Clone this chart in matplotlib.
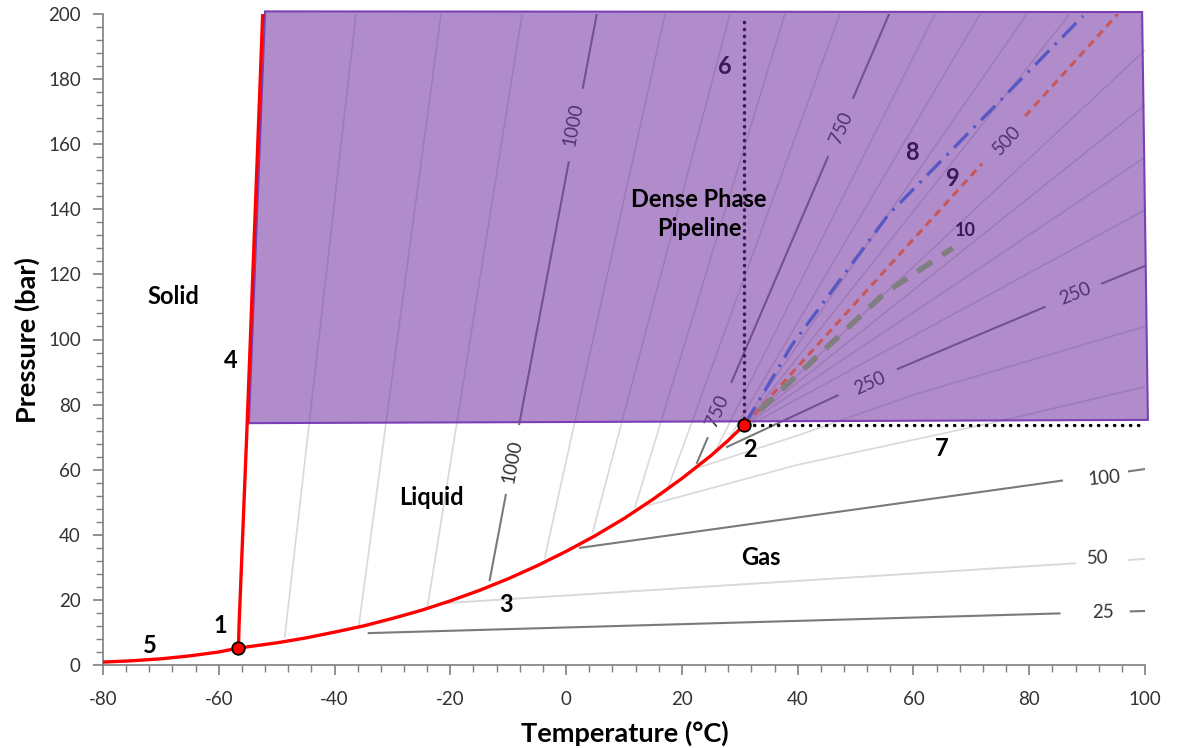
import matplotlib
matplotlib.use("Agg")
import numpy as np
import matplotlib.pyplot as plt
from matplotlib.patches import Polygon
from matplotlib.ticker import MultipleLocator

plt.rcParams['font.family'] = ['Lato', 'DejaVu Sans']
plt.rcParams['axes.unicode_minus'] = False

# ---------------- data ----------------
# sublimation + vapour-pressure curve (T in degC, P in bar)
sat_T = [-80, -75, -70, -65, -60, -56.6, -50, -45, -40, -35, -30, -25, -20,
         -15, -10, -5, 0, 5, 10, 15, 20, 25, 28, 30.8]
sat_P = [0.9, 1.3, 1.9, 2.8, 4.0, 5.2, 6.8, 8.3, 10.1, 12.0, 14.3, 16.8, 19.7,
         22.9, 26.5, 30.5, 34.9, 39.7, 45.0, 50.9, 57.3, 64.3, 69.0, 73.8]
# melting curve
melt_T = [-56.6, -56.5, -55.1, -52.4]
melt_P = [5.2, 12.0, 74.0, 200.5]
# triple point / critical point
pts_T = [-56.6, 30.8]
pts_P = [5.2, 73.8]

# straight isochores (density kg/m3): start and end points
iso_rho = [1150, 1100, 1050, 1000, 950, 900, 850, 800, 750, 700, 650, 600, 550,
           450, 400, 350, 300, 100, 50, 25]
iso_T0 = [-48.6, -35.8, -23.9, -13.2, -3.7, 4.6, 11.9, 17.6, 22.6, 25.7, 28.0,
          29.7, 30.5, 30.7, 30.4, 30.0, 29.2, 2.4, -20.9, -34.1]
iso_P0 = [8.6, 12.3, 18.4, 26.1, 32.9, 40.9, 48.5, 54.4, 62.1, 65.4, 69.1,
          71.9, 73.2, 73.6, 73.2, 72.6, 71.3, 36.0, 19.0, 9.8]
iso_T1 = [-36.3, -21.6, -7.6, 5.3, 17.1, 28.3, 37.8, 47.3, 55.8, 63.7, 71.5,
          79.6, 87.0, 100, 100, 100, 100, 100, 100, 100]
iso_P1 = [200, 200, 200, 200, 200, 200, 200, 200, 200, 200, 200,
          200, 200, 188.9, 172.0, 156.0, 139.8, 60.2, 32.6, 16.6]
# curved isochores
iso250_T = [27.8, 47.0, 57.2, 82.7, 100]
iso250_P = [67.0, 82.9, 90.9, 110.0, 122.6]
iso200_T = [23.1, 40, 60, 100]
iso200_P = [60.8, 70.5, 83.0, 104.0]
iso150_T = [14.0, 40, 74.4, 100]
iso150_P = [49.0, 61.5, 74.7, 85.5]

# dense-phase pipeline region
dense_T = [-52.0, 99.5, 100.5, -54.8]
dense_P = [200.8, 200.6, 75.3, 74.3]

# numbered lines
line6_T = [30.8, 30.8]
line6_P = [73.8, 198.5]
line7_T = [32.5, 100]
line7_P = [73.6, 73.6]
line8_T = [30.9, 39.0, 55.6, 89.3]
line8_P = [74.0, 98.3, 138.2, 199.4]
line9_T = [30.9, 95.3]          # 500 kg/m3
line9_P = [73.8, 200.0]
line10_T = [33.5, 55.0, 66.8]
line10_P = [78.3, 114.2, 128.1]

x_ticks = [-80, -60, -40, -20, 0, 20, 40, 60, 80, 100]
y_ticks = [0, 20, 40, 60, 80, 100, 120, 140, 160, 180, 200]

# ---------------- figure ----------------
fig = plt.figure(figsize=(11.85, 7.48), dpi=100)
ax = fig.add_axes([103 / 1185, 1 - 665 / 748, 1042 / 1185, 651 / 748])
ax.set_xlim(-80, 100)
ax.set_ylim(0, 200)

LIGHT = '#D9D9D9'
DARK = '#7A7A7A'
LBL = '#333333'


def draw_gapped(T, P, gaps=(), key='P', **kw):
    T = np.asarray(T, float)
    P = np.asarray(P, float)
    n = 600
    idx = np.linspace(0, len(T) - 1, n)
    Ti = np.interp(idx, np.arange(len(T)), T)
    Pi = np.interp(idx, np.arange(len(P)), P)
    v = Pi if key == 'P' else Ti
    mask = np.ones(n, bool)
    for a, b in gaps:
        mask &= ~((v >= a) & (v <= b))
    ax.plot(np.where(mask, Ti, np.nan), np.where(mask, Pi, np.nan), **kw)


dark_gaps = {1000: ([(52.5, 74.0), (154.5, 177.3)], 'P'),
             750: ([(69.7, 86.9), (156.1, 174.2)], 'P'),
             100: ([(85.8, 97.1)], 'T'),
             25: ([(85.3, 97.4)], 'T')}

for rho, t0, p0, t1, p1 in zip(iso_rho, iso_T0, iso_P0, iso_T1, iso_P1):
    if rho in dark_gaps:
        g, k = dark_gaps[rho]
        draw_gapped([t0, t1], [p0, p1], g, k, color=DARK, lw=1.5, zorder=2)
    elif rho == 50:
        draw_gapped([t0, t1], [p0, p1], [(87.9, 97.1)], 'T', color=LIGHT, lw=1.4, zorder=1)
    else:
        ax.plot([t0, t1], [p0, p1], color=LIGHT, lw=1.2, zorder=1)

draw_gapped(iso250_T, iso250_P, [(47.0, 57.2), (82.7, 92.6)], 'T', color=DARK, lw=1.5, zorder=2)
ax.plot(iso200_T, iso200_P, color=LIGHT, lw=1.2, zorder=1)
ax.plot(iso150_T, iso150_P, color=LIGHT, lw=1.2, zorder=1)

# isochore labels
iso_labels = [("1000", -9.35, 62.4, 79), ("1000", 1.2, 165.9, 79),
              ("750", 26.2, 78.0, 67), ("750", 47.5, 165.0, 67),
              ("500", 76.2, 161.3, 47), ("250", 52.5, 86.6, 24),
              ("250", 87.9, 114.0, 22), ("100", 92.9, 57.4, 5),
              ("50", 91.9, 32.9, 2), ("25", 92.7, 16.3, 1)]
for s, t, p, r in iso_labels:
    ax.text(t, p, s, rotation=r, rotation_mode='anchor', ha='center', va='center',
            fontsize=13.5, color=LBL, zorder=2)

# line 6 (under overlay)
ax.plot(line6_T, line6_P, color='black', lw=2.5, ls=(0, (0.1, 1.9)),
        dash_capstyle='round', zorder=2)

# number labels under overlay
for s, t, p, fs in [("6", 27.4, 184.0, 17), ("8", 59.7, 157.3, 17),
                    ("9", 66.8, 149.6, 17), ("10", 68.9, 133.6, 13)]:
    ax.text(t, p, s, ha='center', va='center', fontsize=fs, fontweight='bold',
            color='black', zorder=2.5)

# dense phase overlay
poly = Polygon(np.column_stack([dense_T, dense_P]), closed=True,
               facecolor=(112 / 255, 48 / 255, 160 / 255, 0.55),
               edgecolor='#7A3FB5', lw=1.5, zorder=3, clip_on=False)
ax.add_patch(poly)

# lines on top
ax.plot(line7_T, line7_P, color='black', lw=2.4, ls=(0, (0.1, 2.3)),
        dash_capstyle='round', zorder=4)
ax.plot(line8_T, line8_P, color='#5858C4', lw=2.4, ls=(0, (6, 2.4, 0.8, 2.4)), zorder=4)
draw_gapped(line9_T, line9_P, [(154.2, 168.4)], 'P', color='#C8575A', lw=2.2,
            ls=(0, (2.6, 1.8)), zorder=4)
ax.plot(line10_T, line10_P, color='#7F7F7F', lw=4.0, ls=(0, (3.2, 2.2)), zorder=4)

# phase boundaries
ax.plot(sat_T, sat_P, color='#FF0000', lw=2.4, zorder=5, solid_capstyle='round')
ax.plot(melt_T, melt_P, color='#FF0000', lw=2.4, zorder=5, solid_capstyle='round')
ax.plot(pts_T, pts_P, 'o', ms=9, mfc='#FF0000', mec='black', mew=1.3, zorder=6)

# region labels
for s, t, p in [("Solid", -67.9, 113.1), ("Liquid", -23.2, 51.6), ("Gas", 33.7, 32.9),
                ("Dense Phase\nPipeline", 22.95, 138.6)]:
    ax.text(t, p, s, ha='center', va='center', fontsize=17, fontweight='bold',
            color='black', zorder=7, linespacing=1.35)

for s, t, p in [("1", -59.8, 12.0), ("2", 31.8, 66.1), ("3", -10.4, 18.7),
                ("4", -57.9, 93.7), ("5", -71.9, 6.1), ("7", 64.8, 66.4)]:
    ax.text(t, p, s, ha='center', va='center', fontsize=17, fontweight='bold',
            color='black', zorder=7)

# axes styling
for sp in ['top', 'right']:
    ax.spines[sp].set_visible(False)
for sp in ['left', 'bottom']:
    ax.spines[sp].set_color('#7F7F7F')
    ax.spines[sp].set_linewidth(1.2)
ax.set_xticks(x_ticks)
ax.set_yticks(y_ticks)
ax.xaxis.set_minor_locator(MultipleLocator(4))
ax.yaxis.set_minor_locator(MultipleLocator(4))
ax.tick_params(which='major', direction='out', length=7, width=1.2, color='#7F7F7F',
               labelsize=13.5, labelcolor='#333333')
ax.tick_params(which='minor', direction='out', length=5, width=1.0, color='#7F7F7F')
ax.tick_params(axis='x', which='major', pad=12)
ax.tick_params(axis='y', which='major', pad=9)

ax.set_xlabel("Temperature (°C)", fontsize=19.5, fontweight='bold', color='black')
ax.set_ylabel("Pressure (bar)", fontsize=19.5, fontweight='bold', color='black')
ax.xaxis.label.set_va('center')
ax.yaxis.label.set_va('center')
ax.xaxis.set_label_coords(0.501, -0.1045)
ax.yaxis.set_label_coords(-0.073, 0.499)

fig.savefig("out.png", dpi=100)
